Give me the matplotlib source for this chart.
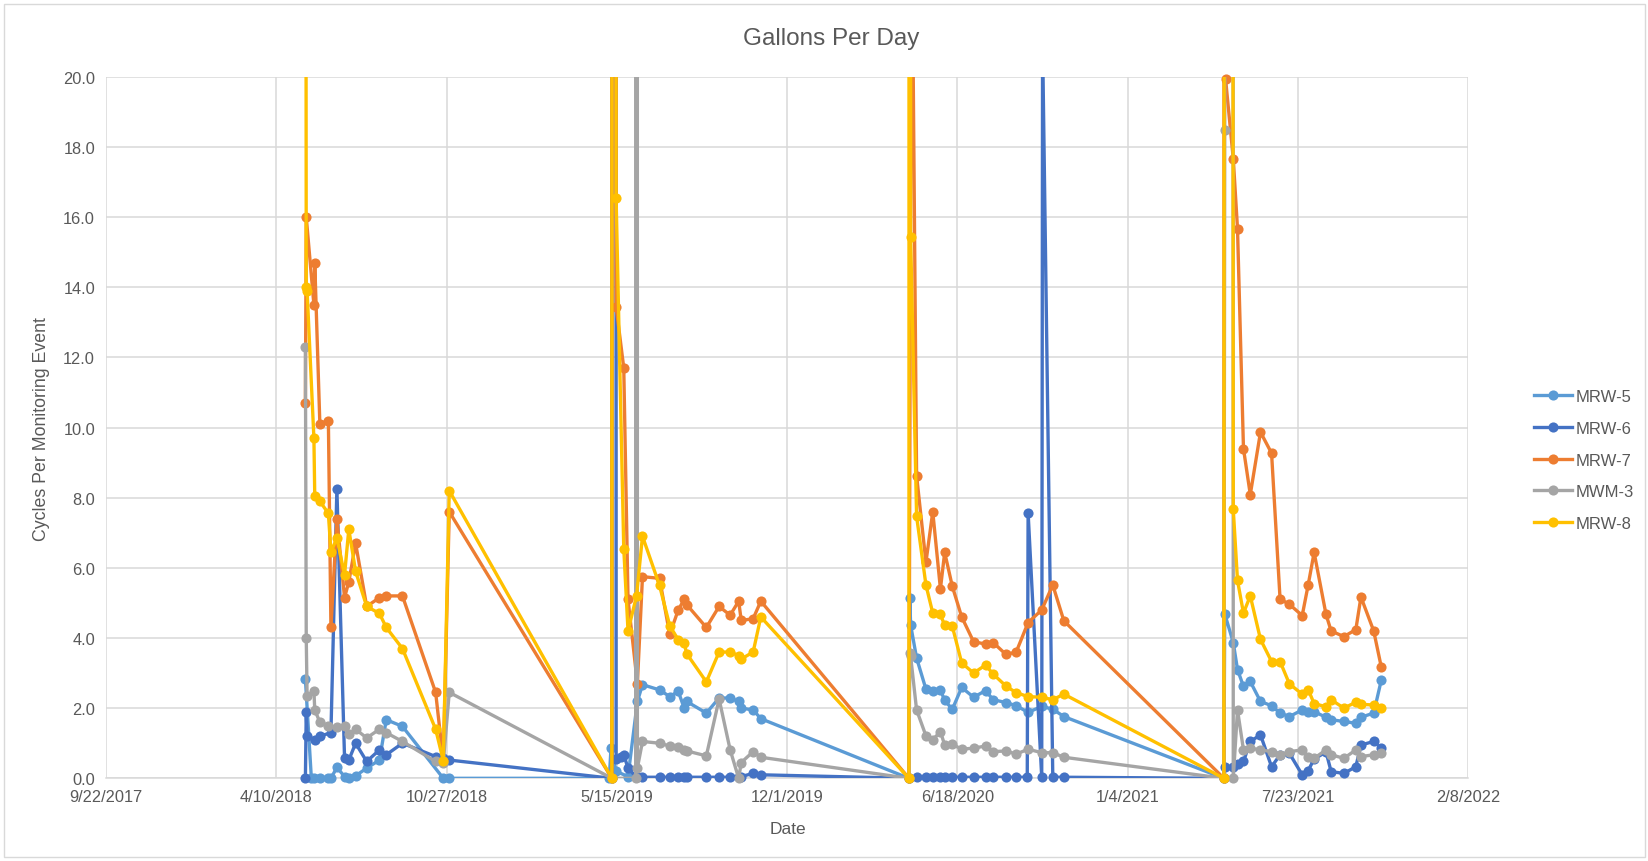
import numpy as np
import pandas as pd
import matplotlib
matplotlib.use("Agg")
import matplotlib.pyplot as plt
from matplotlib.lines import Line2D
from matplotlib.patches import Rectangle

plt.rcParams["font.family"] = ["Liberation Sans", "DejaVu Sans"]

n = None
TOP = 20

# monitoring events, one list per campaign
dates_2018 = ["2018-05-14", "2018-05-15", "2018-05-16", "2018-05-21", "2018-05-24",
              "2018-05-25", "2018-05-31", "2018-06-10", "2018-06-13", "2018-06-20",
              "2018-06-29", "2018-07-04", "2018-07-12", "2018-07-25", "2018-08-09",
              "2018-08-17", "2018-09-05", "2018-10-14", "2018-10-23", "2018-10-30"]
dates_2019 = ["2019-05-06", "2019-05-08", "2019-05-09", "2019-05-11", "2019-05-12",
              "2019-05-14", "2019-05-20", "2019-05-23", "2019-05-28", "2019-06-06",
              "2019-06-07", "2019-06-08", "2019-06-14", "2019-07-04", "2019-07-16",
              "2019-07-26", "2019-08-02", "2019-08-05", "2019-08-28", "2019-09-12",
              "2019-09-25", "2019-10-05", "2019-10-08", "2019-10-22", "2019-10-31"]
dates_2020 = ["2020-04-22", "2020-04-23", "2020-04-24", "2020-04-25", "2020-05-01",
              "2020-05-12", "2020-05-20", "2020-05-29", "2020-06-03", "2020-06-12",
              "2020-06-23", "2020-07-07", "2020-07-21", "2020-07-30", "2020-08-14",
              "2020-08-26", "2020-09-08", "2020-09-09", "2020-09-25", "2020-09-26",
              "2020-10-08", "2020-10-21"]
dates_2021 = ["2021-04-27", "2021-04-28", "2021-04-29", "2021-05-02", "2021-05-04",
              "2021-05-08", "2021-05-13", "2021-05-20", "2021-05-28", "2021-06-09",
              "2021-06-22", "2021-07-02", "2021-07-13", "2021-07-28", "2021-08-04",
              "2021-08-11", "2021-08-25", "2021-08-31", "2021-09-15", "2021-09-29",
              "2021-10-05", "2021-10-20", "2021-10-29"]

mrw5 = ([2.83, n, n, 0, 0, n, 0, 0, 0, 0.31, 0.05, 0.02, 0.07, 0.29, 0.52, 1.67, 1.48, n, 0, 0]
        + [0, 0.86, n, n, n, 0.2, n, n, 0.05, n, n, 2.19, 2.67, 2.52, 2.33, 2.48, 2.0, 2.19,
           1.86, 2.29, 2.29, 2.19, 2.0, 1.95, 1.7]
        + [0, 5.13, 4.37, n, 3.43, 2.54, 2.48, 2.52, 2.22, 1.97, 2.59, 2.31, 2.5, 2.24, 2.16,
           2.07, n, 1.88, 2.05, n, 1.97, 1.76]
        + [0, 4.69, n, n, n, 3.87, 3.1, 2.62, 2.76, 2.19, 2.07, 1.86, 1.76, 1.95, 1.88, 1.9,
           1.74, 1.67, 1.62, 1.57, 1.74, 1.86, 2.81])
mrw6 = ([0, 1.9, 1.2, n, n, 1.1, 1.2, n, 1.3, 8.25, 0.57, 0.52, 1.0, 0.48, 0.81, 0.67, 1.0,
         0.62, 0.57, 0.52]
        + [n, n, 0, n, 500, 0.55, 0.62, 0.67, 0.29, n, 0.03, 0.03, 0.03, 0.03, 0.03, 0.03,
           0.03, 0.03, 0.03, 0.03, 0.03, 0.05, 0.05, 0.14, 0.1]
        + [0, n, n, n, 0.03, 0.03, 0.03, 0.03, 0.03, 0.03, 0.03, 0.03, 0.03, 0.03, 0.03, 0.03,
           0.03, 7.57, 0.03, 21, 0.03, 0.03]
        + [0, 0.33, n, n, n, 0.33, 0.4, 0.48, 1.05, 1.24, 0.33, 0.67, 0.71, 0.1, 0.22, 0.55,
           0.75, 0.19, 0.14, 0.33, 0.95, 1.05, 0.86])
mrw7 = ([10.7, 16.0, n, n, 13.5, 14.7, 10.1, 10.2, 4.3, 7.4, 5.15, 5.6, 6.7, 4.9, 5.15, 5.2,
         5.2, 2.45, 0.5, 7.6]
        + [n, n, 0, 250, n, 13.45, n, 11.7, 5.1, n, n, 2.7, 5.75, 5.7, 4.1, 4.8, 5.1, 4.95,
           4.3, 4.9, 4.65, 5.05, 4.5, 4.55, 5.05]
        + [0, n, n, 26, 8.63, 6.16, 7.6, 5.4, 6.44, 5.47, 4.6, 3.89, 3.83, 3.87, 3.53, 3.6,
           n, 4.44, 4.8, n, 5.51, 4.49]
        + [0, 250, 19.93, n, n, 17.67, 15.67, 9.4, 8.09, 9.87, 9.27, 5.11, 4.96, 4.64, 5.51,
           6.44, 4.67, 4.2, 4.04, 4.24, 5.17, 4.2, 3.16])
mwm3 = ([12.3, 4.0, 2.35, n, 2.5, 1.95, 1.6, 1.5, n, 1.45, 1.5, 1.25, 1.4, 1.15, 1.4, 1.3,
         1.05, 0.48, 0.45, 2.45]
        + [n, n, 0, n, n, n, n, n, n, 0, 800, 0.29, 1.05, 1.0, 0.92, 0.9, 0.81, 0.78, 0.64,
           2.26, 0.81, 0.0, 0.45, 0.76, 0.6]
        + [0, 3.57, 3.48, n, 1.95, 1.21, 1.1, 1.33, 0.95, 0.97, 0.83, 0.86, 0.92, 0.76, 0.78,
           0.69, n, 0.83, 0.73, n, 0.73, 0.6]
        + [0, 18.47, n, n, 800, 0, 1.95, 0.81, 0.86, 0.81, 0.76, 0.67, 0.76, 0.81, 0.62,
           0.57, 0.81, 0.67, 0.57, 0.81, 0.62, 0.67, 0.71])
mrw8 = ([45, 14.0, 13.9, n, 9.7, 8.05, 7.9, 7.55, 6.45, 6.85, 5.8, 7.1, 5.9, 4.9, 4.7, 4.3,
         3.7, 1.4, 0.5, 8.2]
        + [n, n, 0, 300, n, 16.55, n, 6.55, 4.2, n, 5.2, n, 6.9, 5.5, 4.35, 3.95, 3.85, 3.55,
           2.75, 3.6, 3.6, 3.5, 3.4, 3.6, 4.6]
        + [0, 300, 15.44, n, 7.47, 5.51, 4.71, 4.67, 4.36, 4.33, 3.29, 3.0, 3.23, 2.97, 2.63,
           2.44, n, 2.33, 2.31, n, 2.24, 2.4]
        + [0, n, n, 300, n, 7.67, 5.64, 4.71, 5.2, 3.96, 3.33, 3.33, 2.69, 2.4, 2.53, 2.13,
           2.04, 2.24, 2.0, 2.17, 2.11, 2.09, 2.0])

names = ["MRW-5", "MRW-6", "MRW-7", "MWM-3", "MRW-8"]
colors = ["#5B9BD5", "#4472C4", "#ED7D31", "#A5A5A5", "#FFC000"]

dates = pd.to_datetime(dates_2018 + dates_2019 + dates_2020 + dates_2021)
series = [mrw5, mrw6, mrw7, mwm3, mrw8]

W, H = 1649, 862
fig = plt.figure(figsize=(W / 100, H / 100), dpi=100)
ax = fig.add_axes([106.2 / W, 1 - 779.3 / H, (1468.2 - 106.2) / W, (779.3 - 77.8) / H])

LW = 2.4
MS = 7.3
for k, (name, vals, c) in enumerate(zip(names, series, colors)):
    v = np.array(vals, dtype=float)
    ok = ~np.isnan(v)
    ax.plot(dates[ok], v[ok], "-", color=c, lw=LW, solid_joinstyle="round", zorder=3 + k)
    # markers outside the y range are not drawn, those on the edges are not cut
    vis = ok & (v <= TOP + 0.2)
    ax.plot(dates[vis], v[vis], "o", color=c, ms=MS, mew=0, clip_on=False, zorder=3 + k)

start = pd.Timestamp("2017-09-22")
xt = [start + pd.Timedelta(days=200 * i) for i in range(9)]
ax.set_xlim(xt[0], xt[-1])
ax.set_ylim(0, TOP)
ax.set_xticks(xt)
ax.set_xticklabels([f"{d.month}/{d.day}/{d.year}" for d in xt])
ax.set_yticks(np.arange(0, 21, 2))
ax.set_yticklabels([f"{y:.1f}" for y in np.arange(0, 21, 2)])
ax.grid(True, color="#d9d9d9", lw=1.1, zorder=0)
ax.set_axisbelow(True)
for s in ["top", "right", "left"]:
    ax.spines[s].set_visible(False)
ax.spines["bottom"].set_color("#d9d9d9")
ax.spines["bottom"].set_linewidth(1.1)
ax.tick_params(length=0, labelsize=11.8, colors="#595959", pad=8)

fig.text(831 / W, 1 - 39 / H, "Gallons Per Day", ha="center", va="center",
         fontsize=17.5, color="#595959")
fig.text(42 / W, 1 - 429 / H, "Cycles Per Monitoring Event", ha="center", va="center",
         rotation=90, fontsize=12.8, color="#595959")
fig.text(788 / W, 1 - 830 / H, "Date", ha="center", va="center", fontsize=12.5,
         color="#595959")

handles = [Line2D([0], [0], color=c, lw=LW, marker="o", ms=MS, mew=0) for c in colors]
fig.legend(handles, names, loc="center left", bbox_to_anchor=(1519 / W, 1 - 461 / H),
           frameon=False, fontsize=12, labelcolor="#595959", handlelength=2.3,
           handletextpad=0.2, labelspacing=1.0)

fig.add_artist(Rectangle((4 / W, 4 / H), (W - 8) / W, (H - 9) / H, transform=fig.transFigure,
                         fill=False, edgecolor="#d9d9d9", lw=1))

fig.savefig("out.png", dpi=100)
